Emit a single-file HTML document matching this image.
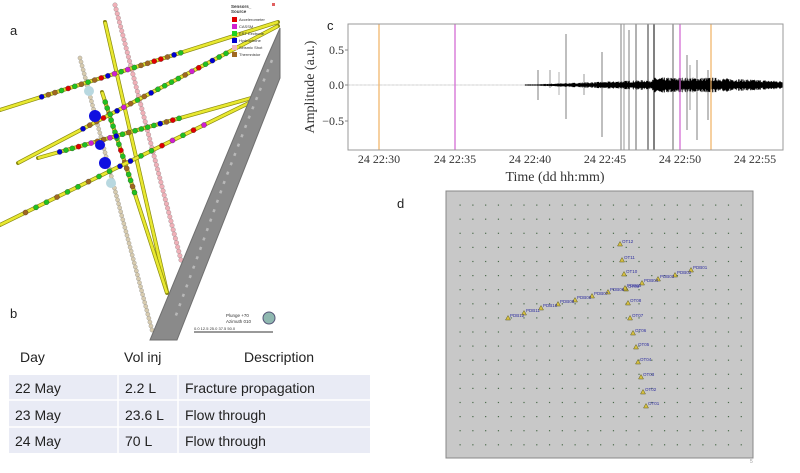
<!DOCTYPE html>
<html><head><meta charset="utf-8"><style>
html,body{margin:0;padding:0;background:#fff;width:800px;height:473px;overflow:hidden}
svg{display:block}
</style></head><body>
<svg id="s" width="800" height="473" xmlns="http://www.w3.org/2000/svg" font-family="Liberation Sans, sans-serif">
<rect width="800" height="473" fill="#fff"/>
<g id="a3d"></g>
<!-- gray tube -->
<polygon points="266,60 280,28 280,78 177,340 150,340" fill="#8a8a8a" stroke="#6f6f6f"/>
<polyline points="272,60 250,115 225,180 200,250 175,318" fill="none" stroke="#b8b8b8" stroke-width="2.5" stroke-dasharray="3 7"/>
<g id="a3d2"></g>
<!-- legend -->
<text x="231" y="8" font-size="4.5" font-weight="bold" fill="#333">Sensors_</text>
<text x="231" y="13" font-size="4.5" font-weight="bold" fill="#333">Source</text>
<rect x="272" y="3" width="3" height="3" fill="#e06060"/>
<g font-size="4" fill="#333">
<rect x="232" y="17" width="5" height="5" fill="#e00000"/><text x="239" y="21">Accelerometer</text>
<rect x="232" y="24" width="5" height="5" fill="#d020d0"/><text x="239" y="28">CASSM</text>
<rect x="232" y="31" width="5" height="5" fill="#20d020"/><text x="239" y="35">ERT Eectrode</text>
<rect x="232" y="38" width="5" height="5" fill="#0000d0"/><text x="239" y="42">Hydrophone</text>
<rect x="232" y="45" width="5" height="5" fill="#f0b8c0"/><text x="239" y="49">Seismic Shot</text>
<rect x="232" y="52" width="5" height="5" fill="#a06820"/><text x="239" y="56">Thermnistor</text>
</g>
<text x="10" y="35" font-size="13" fill="#222">a</text>
<text x="10" y="318" font-size="13" fill="#222">b</text>
<text x="226" y="317" font-size="4.5" fill="#333">Plunge +70</text>
<text x="226" y="323" font-size="4.5" fill="#333">Azimuth 010</text>
<circle cx="269" cy="318" r="6" fill="#8fb8b0" stroke="#557"/>
<text x="194" y="330" font-size="4" fill="#333">0.0  12.5   25.0   37.5  50.0</text>
<line x1="194" y1="332" x2="273" y2="332" stroke="#333" stroke-width="1"/>

<!-- table -->
<text x="20" y="362" font-size="14" fill="#222">Day</text>
<text x="124" y="362" font-size="14" fill="#222">Vol inj</text>
<text x="244" y="362" font-size="14" fill="#222">Description</text>
<rect x="9" y="375" width="361" height="78" fill="#e9ebf5"/>
<line x1="9" y1="400" x2="370" y2="400" stroke="#fff" stroke-width="1.5"/>
<line x1="9" y1="427" x2="370" y2="427" stroke="#fff" stroke-width="1.5"/>
<line x1="118" y1="375" x2="118" y2="453" stroke="#fff" stroke-width="1.5"/>
<line x1="178" y1="375" x2="178" y2="453" stroke="#fff" stroke-width="1.5"/>
<g font-size="14" fill="#222">
<text x="15" y="393">22 May</text><text x="125" y="393">2.2 L</text><text x="185" y="393">Fracture propagation</text>
<text x="15" y="420">23 May</text><text x="125" y="420">23.6 L</text><text x="185" y="420">Flow through</text>
<text x="15" y="446">24 May</text><text x="125" y="446">70 L</text><text x="185" y="446">Flow through</text>
</g>

<!-- panel c -->
<text x="327" y="30" font-size="13" fill="#222">c</text>
<line x1="348" y1="85" x2="783" y2="85" stroke="#ccc" stroke-width="0.6" stroke-dasharray="2 2"/>
<g id="wave"></g>
<line x1="379" y1="24" x2="379" y2="150" stroke="#f0b060" stroke-width="1.2"/>
<line x1="711" y1="24" x2="711" y2="150" stroke="#f0b060" stroke-width="1.2"/>
<line x1="455" y1="24" x2="455" y2="150" stroke="#d060d0" stroke-width="1.2"/>
<line x1="680" y1="24" x2="680" y2="150" stroke="#d060d0" stroke-width="1.2"/>
<rect x="348" y="24" width="435" height="126" fill="none" stroke="#999" stroke-width="1"/>
<g font-family="Liberation Serif, serif" font-size="12" fill="#333">
<text x="344" y="54" text-anchor="end">0.5</text>
<text x="344" y="89" text-anchor="end">0.0</text>
<text x="344" y="125" text-anchor="end">−0.5</text>
<g text-anchor="middle">
<text x="379" y="163">24 22:30</text><text x="455" y="163">24 22:35</text><text x="530" y="163">24 22:40</text>
<text x="605" y="163">24 22:45</text><text x="680" y="163">24 22:50</text><text x="755" y="163">24 22:55</text>
</g>
<text x="555" y="181" font-size="14" text-anchor="middle">Time (dd hh:mm)</text>
<text transform="translate(314,87) rotate(-90)" font-size="14" text-anchor="middle">Amplitude (a.u.)</text>
</g>
<g stroke="#888" stroke-width="1"><line x1="345" y1="50" x2="348" y2="50"/><line x1="345" y1="85" x2="348" y2="85"/><line x1="345" y1="121" x2="348" y2="121"/></g>

<!-- panel d -->
<text x="397" y="208" font-size="13" fill="#222">d</text>
<rect x="446" y="191" width="307" height="267" fill="#c8c8c8" stroke="#888"/>
<g id="grid"></g>
<g id="marks" font-size="4.5" fill="#3030a0"></g>
<text x="750" y="463" font-size="5" fill="#999">5</text>
</svg>
<script>
var NS="http://www.w3.org/2000/svg";
function el(p,t,a){var e=document.createElementNS(NS,t);for(var k in a)e.setAttribute(k,a[k]);p.appendChild(e);return e;}
var seed=7;function rnd(){seed=(seed*16807)%2147483647;return seed/2147483647;}
var w=document.getElementById('wave');
var d="";
for(var x=525;x<=783;x+=0.5){
 var a;
 if(x<540)a=0.7;else if(x<620)a=1+(x-540)/80*3;else if(x<654)a=4+(x-620)/34*1.5;else if(x<711)a=7.5;else a=7.5-(x-711)/72*3.5;
 var h=a*(0.5+0.5*rnd());
 d+="M"+x+","+(85-h)+"V"+(85+h);
}
el(w,'path',{d:d,stroke:'#000','stroke-width':0.6});
el(w,'line',{x1:348,y1:85,x2:525,y2:85,stroke:'#bbb','stroke-width':0.6});
var sp=[[538,70,100,0.5],[550,70,88,0.4],[566,34,119,0.5],[584,74,95,0.4],[602,52,137,0.5],[621,24,150,0.5],[624,24,150,0.4],[629,30,150,0.5],[636,24,150,0.6],[648,24,150,0.8],[654,24,150,1],[673,24,150,0.6],[687,55,130,0.5],[697,60,140,0.5],[708,70,120,0.5],[559,72,95,0.3],[661,80,92,0.3],[690,65,110,0.4]];
sp.forEach(function(s){el(w,'line',{x1:s[0],y1:s[1],x2:s[0],y2:s[2],stroke:'#000','stroke-opacity':s[3],'stroke-width':1});});
var g=document.getElementById('grid');
for(var i=0;i<23;i++)for(var j=0;j<18;j++)el(g,'rect',{x:460+i*12.78-0.5,y:205+j*14.1-0.5,width:1.2,height:1.2,fill:'#4a6a4a'});
var m=document.getElementById('marks');
var pts=[["OT12",620,244],["OT11",622,260],["OT10",624,274],["OT09",626,289],["OT08",628,303],["OT07",630,318],["OT06",633,333],["OT05",636,347],["OT04",638,362],["OT03",641,377],["OT02",643,392],["OT01",646,406],
["PDB01",691,270],["PDB02",675,275],["PDB03",658,279],["PDB04",642,283],["PDB05",625,288],["PDB06",608,292],["PDB07",592,296],["PDB08",575,300],["PDB09",558,304],["PDB10",541,308],["PDB11",524,313],["PDB12",508,318]];
pts.forEach(function(p){var x=p[1],y=p[2];el(m,'polygon',{points:(x-2.5)+","+(y+2)+" "+(x+2.5)+","+(y+2)+" "+x+","+(y-2.5),fill:'#d8c040',stroke:'#5a5a20','stroke-width':0.5});var t=el(m,'text',{x:x+2,y:y-1});t.textContent=p[0];});
var A=document.getElementById('a3d');
var cols=['#20c020','#a06820','#20c020','#a06820','#20c020','#0000d0','#20c020','#a06820','#e00000','#d020d0'];
function tube(x1,y1,x2,y2,bs,be,n,par){
 el(par,'line',{x1:x1,y1:y1,x2:x2,y2:y2,stroke:'#8a8a10','stroke-width':4,'stroke-linecap':'round'});
 el(par,'line',{x1:x1,y1:y1,x2:x2,y2:y2,stroke:'#e8e830','stroke-width':2.6});
 for(var k=0;k<n;k++){var t=bs+(be-bs)*k/(n-1);var c=cols[Math.floor(rnd()*cols.length)];
 el(par,'circle',{cx:x1+(x2-x1)*t,cy:y1+(y2-y1)*t,r:2.6,fill:c,stroke:'#333','stroke-width':0.3});}
}
function beads(x1,y1,x2,y2,n,c,r,par){for(var k=0;k<n;k++){var t=k/(n-1);el(par,'circle',{cx:x1+(x2-x1)*t,cy:y1+(y2-y1)*t,r:r,fill:c,stroke:'#777','stroke-width':0.3});}}
tube(105,22,167,292,0.2,0.6,0,A);
beads(115,5,181,260,60,'#f0b0b8',2.3,A);
tube(102,92,167,293,0.05,0.5,16,A);
beads(80,58,152,330,70,'#d8ccb0',2.1,A);
tube(0,110,278,22,0.15,0.65,22,A);
tube(18,163,278,26,0.25,0.8,22,A);
tube(38,158,255,97,0.1,0.65,20,A);
tube(0,225,255,100,0.1,0.8,18,A);
el(A,'circle',{cx:95,cy:116,r:6,fill:'#1010e0'});
el(A,'circle',{cx:100,cy:145,r:5,fill:'#1010e0'});
el(A,'circle',{cx:105,cy:163,r:6,fill:'#1010e0'});
el(A,'circle',{cx:89,cy:91,r:5,fill:'#b8d8e0'});
el(A,'circle',{cx:111,cy:183,r:5,fill:'#b8d8e0'});
</script>
</body></html>
